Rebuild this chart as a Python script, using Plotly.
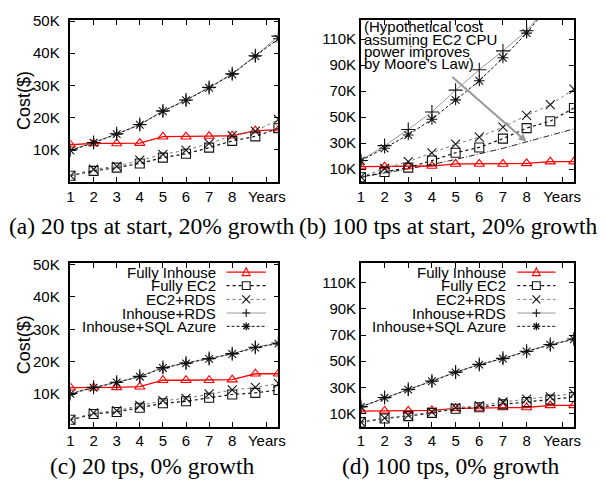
import plotly.graph_objects as go

W, H = 606, 486

# ---------------- data (cost in thousands of $) ----------------
years = [1, 2, 3, 4, 5, 6, 7, 8, 9, 10]
x_tickvals = [1, 2, 3, 4, 5, 6, 7, 8, 9.5]
x_ticktext = ["1", "2", "3", "4", "5", "6", "7", "8", "Years"]
y_small_ticks = [10, 20, 30, 40, 50]
y_small_text = ["10K", "20K", "30K", "40K", "50K"]
y_big_ticks = [10, 30, 50, 70, 90, 110]
y_big_text = ["10K", "30K", "50K", "70K", "90K", "110K"]

series_names = ["Fully Inhouse", "Fully EC2", "EC2+RDS", "Inhouse+RDS", "Inhouse+SQL Azure"]

# (a) 20 tps at start, 20% growth
a_inhouse = [11.6, 12.0, 12.0, 12.1, 14.1, 14.1, 14.3, 14.4, 16.0, 16.2]
a_ec2 = [2.0, 3.5, 4.5, 5.8, 7.6, 8.8, 10.7, 12.8, 14.2, 16.7]
a_ec2rds = [2.0, 4.0, 4.9, 6.8, 8.6, 9.9, 12.0, 14.4, 15.8, 19.5]
a_inrds = [10.0, 12.3, 15.0, 17.9, 22.1, 25.5, 29.4, 33.6, 39.2, 45.3]
a_azure = [9.8, 12.2, 14.9, 17.8, 22.0, 25.4, 29.3, 33.5, 39.1, 44.5]

# (b) 100 tps at start, 20% growth
b_inhouse = [12.0, 12.0, 12.0, 12.4, 14.0, 14.0, 14.0, 14.4, 15.8, 15.8]
b_ec2 = [3.8, 7.8, 11.2, 16.6, 22.6, 26.7, 33.5, 41.6, 46.9, 57.1]
b_ec2rds = [4.0, 10.5, 15.8, 22.6, 29.2, 34.6, 42.4, 51.3, 59.6, 71.5]
b_inrds = [16.7, 28.1, 40.5, 54.0, 70.8, 86.5, 101.0, 116.5, 138.0, 162.0]
b_azure = [16.5, 26.1, 36.3, 48.4, 63.3, 78.0, 95.7, 114.7, 137.0, 163.0]
b_moore = [3.8, 7.0, 10.0, 13.5, 17.5, 21.5, 26.0, 31.0, 36.0, 41.0]

# (c) 20 tps, 0% growth
c_inhouse = [12.0, 12.0, 12.1, 12.3, 14.3, 14.3, 14.3, 14.5, 16.3, 16.3]
c_ec2 = [2.1, 3.9, 4.5, 5.8, 7.2, 7.8, 8.9, 9.9, 10.4, 11.3]
c_ec2rds = [2.1, 4.2, 4.9, 6.5, 8.0, 8.7, 10.1, 11.3, 12.1, 13.3]
c_inrds = [10.2, 12.1, 13.7, 15.5, 18.2, 19.6, 21.0, 22.5, 24.5, 25.8]
c_azure = [10.1, 12.0, 13.6, 15.4, 18.1, 19.5, 20.9, 22.4, 24.4, 25.6]

# (d) 100 tps, 0% growth
d_inhouse = [11.8, 12.0, 12.0, 12.4, 14.0, 14.2, 14.6, 14.6, 16.2, 16.2]
d_ec2 = [3.4, 6.2, 8.0, 10.5, 13.6, 14.8, 17.0, 18.8, 20.6, 22.6]
d_ec2rds = [3.4, 6.5, 8.6, 11.0, 14.5, 16.0, 18.8, 21.0, 22.8, 25.2]
d_inrds = [15.3, 22.2, 28.5, 34.9, 41.7, 47.6, 52.2, 57.7, 62.8, 67.0]
d_azure = [15.1, 22.0, 28.3, 34.7, 41.5, 47.4, 52.0, 57.5, 62.6, 66.8]

captions = ["(a) 20 tps at start, 20% growth", "(b) 100 tps at start, 20% growth",
            "(c) 20 tps, 0% growth", "(d) 100 tps, 0% growth"]
note_lines = ["(Hypothetical cost", "assuming EC2 CPU", "power improves", "by Moore\u2019s Law)"]
arrow_tail = (4.8, 82.0)
arrow_head = (8.0, 31.0)

# ---------------- styles ----------------
styles = {
    "Fully Inhouse": dict(color="#ff0000", mcolor="#ff0000", dash="solid", width=1.3, symbol="triangle-up-open", size=9),
    "Fully EC2": dict(color="#111111", mcolor="#111111", dash="dot", width=1.2, symbol="square-open", size=9),
    "EC2+RDS": dict(color="#777777", mcolor="#111111", dash="dot", width=1.0, symbol="x-thin-open", size=9),
    "Inhouse+RDS": dict(color="#999999", mcolor="#111111", dash="solid", width=1.0, symbol="cross-thin-open", size=10),
    "Inhouse+SQL Azure": dict(color="#111111", mcolor="#111111", dash="3px,2px", width=1.0, symbol="asterisk-open", size=9),
}

FONT = "Liberation Sans, Arial, Helvetica, sans-serif"
SERIF = "Liberation Serif, Times New Roman, serif"
FS = 15

fig = go.Figure()

panels = [
    ("x", "y", [a_inhouse, a_ec2, a_ec2rds, a_inrds, a_azure]),
    ("x2", "y2", [b_inhouse, b_ec2, b_ec2rds, b_inrds, b_azure]),
    ("x3", "y3", [c_inhouse, c_ec2, c_ec2rds, c_inrds, c_azure]),
    ("x4", "y4", [d_inhouse, d_ec2, d_ec2rds, d_inrds, d_azure]),
]

for xa, ya, data in panels:
    if xa == "x2":
        fig.add_trace(go.Scatter(x=years, y=b_moore, xaxis=xa, yaxis=ya, mode="lines",
                                 line=dict(color="#222222", width=1.0, dash="6px,2px,1px,2px"),
                                 showlegend=False, name="Moore's Law"))
    for name, vals in zip(series_names, data):
        s = styles[name]
        fig.add_trace(go.Scatter(
            x=years, y=vals, xaxis=xa, yaxis=ya, mode="lines+markers", name=name,
            showlegend=False,
            line=dict(color=s["color"], width=s["width"], dash=s["dash"]),
            marker=dict(symbol=s["symbol"], size=s["size"], color=s["mcolor"],
                        line=dict(color=s["mcolor"], width=1.1)),
        ))

# ---------------- axes ----------------
def px(x):
    return x / W

def py(y):
    return 1 - y / H

left_dom = [px(67.7), px(279.5)]
right_dom = [px(363.5), px(580.5)]
top_dom = [py(177.7), py(12.9)]
bot_dom = [py(425.7), py(260.0)]

common = dict(showline=True, linecolor="black", linewidth=1.6, mirror="allticks",
              ticks="inside", ticklen=5, tickwidth=1, tickcolor="black",
              showgrid=False, zeroline=False,
              tickfont=dict(family=FONT, size=FS, color="black"))

def xaxis(dom, anchor):
    return dict(common, domain=dom, anchor=anchor, range=[1, 10],
                tickmode="array", tickvals=x_tickvals, ticktext=x_ticktext,
                ticklabelstandoff=0)

def yaxis(dom, anchor, rng, tv, tt, standoff):
    return dict(common, domain=dom, anchor=anchor, range=rng,
                tickmode="array", tickvals=tv, ticktext=tt, ticklabelstandoff=standoff)

fig.update_layout(
    xaxis=xaxis(left_dom, "y"),
    yaxis=yaxis(top_dom, "x", [0, 50.4], y_small_ticks, y_small_text, 6),
    xaxis2=xaxis(right_dom, "y2"),
    yaxis2=yaxis(top_dom, "x2", [0, 125], y_big_ticks, y_big_text, 0),
    xaxis3=xaxis(left_dom, "y3"),
    yaxis3=yaxis(bot_dom, "x3", [0, 50.4], y_small_ticks, y_small_text, 6),
    xaxis4=xaxis(right_dom, "y4"),
    yaxis4=yaxis(bot_dom, "x4", [0, 125], y_big_ticks, y_big_text, 0),
)

annotations = []
shapes = []

# y-axis titles
for cy in [95.3, 343.0]:
    annotations.append(dict(x=px(20.5), y=py(cy), xref="paper", yref="paper",
                            text="Cost($)", textangle=-90, showarrow=False,
                            font=dict(family=FONT, size=18, color="black"),
                            xanchor="center", yanchor="middle"))

# captions
cap_pos = [(150, 222), (453, 222), (151.5, 466), (455.5, 466)]
for text, (cx, cy) in zip(captions, cap_pos):
    annotations.append(dict(x=px(cx), y=py(cy), xref="paper", yref="paper", text=text,
                            showarrow=False, font=dict(family=SERIF, size=23.5, color="black"),
                            xanchor="center", yanchor="middle"))

# note in (b)
for i, line in enumerate(note_lines):
    annotations.append(dict(x=px(365), y=py(20 + 12.6 * i), xref="paper", yref="paper",
                            text=line, showarrow=False, xanchor="left", yanchor="middle",
                            font=dict(family=FONT, size=FS, color="black")))

# arrow in (b)
annotations.append(dict(x=arrow_head[0], y=arrow_head[1], xref="x2", yref="y2",
                        ax=arrow_tail[0], ay=arrow_tail[1], axref="x2", ayref="y2",
                        text="", showarrow=True, arrowhead=2, arrowsize=0.8,
                        arrowwidth=2, arrowcolor="#999999"))

# custom gnuplot-style key (text right aligned, sample on the right)
def key(text_right, s_x0, s_x1, rows_y):
    for name, ry in zip(series_names, rows_y):
        s = styles[name]
        annotations.append(dict(x=px(text_right), y=py(ry), xref="paper", yref="paper",
                                text=name, showarrow=False, xanchor="right", yanchor="middle",
                                font=dict(family=FONT, size=FS, color="black")))
        shapes.append(dict(type="line", xref="paper", yref="paper",
                           x0=px(s_x0), x1=px(s_x1), y0=py(ry), y1=py(ry),
                           line=dict(color=s["color"], width=s["width"], dash=s["dash"])))
        mx = (s_x0 + s_x1) / 2
        r = 4.0
        lc = dict(color=s["mcolor"], width=1.1)
        if name == "Fully Inhouse":
            path = f"M {px(mx - r)} {py(ry + 3.5)} L {px(mx + r)} {py(ry + 3.5)} L {px(mx)} {py(ry - 4.5)} Z"
            shapes.append(dict(type="path", xref="paper", yref="paper", path=path,
                               line=lc, fillcolor="rgba(0,0,0,0)"))
        elif name == "Fully EC2":
            shapes.append(dict(type="rect", xref="paper", yref="paper",
                               x0=px(mx - r), x1=px(mx + r), y0=py(ry - r), y1=py(ry + r),
                               line=lc, fillcolor="white"))
        elif name == "EC2+RDS":
            for sgn in (1, -1):
                shapes.append(dict(type="line", xref="paper", yref="paper",
                                   x0=px(mx - r), x1=px(mx + r), y0=py(ry - sgn * r), y1=py(ry + sgn * r),
                                   line=lc))
        elif name == "Inhouse+RDS":
            shapes.append(dict(type="line", xref="paper", yref="paper",
                               x0=px(mx - r), x1=px(mx + r), y0=py(ry), y1=py(ry), line=lc))
            shapes.append(dict(type="line", xref="paper", yref="paper",
                               x0=px(mx), x1=px(mx), y0=py(ry - r), y1=py(ry + r), line=lc))
        else:
            for (dx, dy) in [(r, 0), (0, r), (0.72 * r, 0.72 * r), (0.72 * r, -0.72 * r)]:
                shapes.append(dict(type="line", xref="paper", yref="paper",
                                   x0=px(mx - dx), x1=px(mx + dx), y0=py(ry - dy), y1=py(ry + dy),
                                   line=dict(color=s["mcolor"], width=1.3)))

rows = [269, 282.7, 296.7, 310.5, 324]
key(218.3, 226.7, 266.7, rows)
key(513.3, 522.7, 561.7, rows)

fig.update_layout(
    width=W, height=H, margin=dict(l=0, r=0, t=0, b=0),
    paper_bgcolor="white", plot_bgcolor="white",
    showlegend=False, annotations=annotations, shapes=shapes,
    font=dict(family=FONT, size=FS, color="black"),
)

fig.write_html("out.html", config={"displayModeBar": False},
               post_script="document.body.style.margin='0';")
